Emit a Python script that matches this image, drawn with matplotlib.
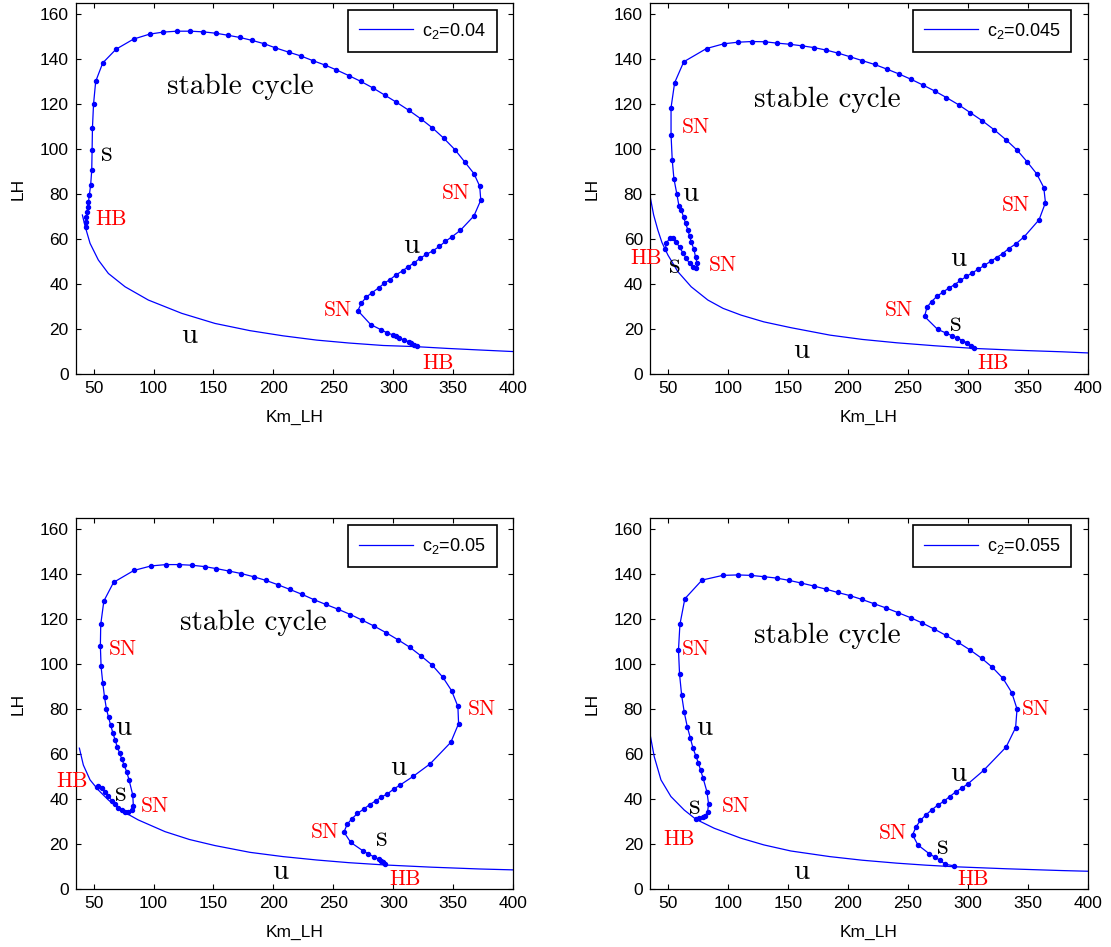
import matplotlib
matplotlib.use('Agg')
import matplotlib.pyplot as plt

plt.rcParams['font.family'] = ['Liberation Sans', 'DejaVu Sans']

# ---------------- data ----------------
c2_values = ['0.04', '0.045', '0.05', '0.055']

# equilibrium branches (Km_LH, LH)
eq1_x = [40.7, 42.9, 47.1, 54.0, 62.4, 76.3, 95.7, 123.5, 151.3, 180.4, 208.0, 236.0, 263.0, 291.5, 318.5, 345.0, 372.0, 400.0]
eq1_y = [70.7, 65.8, 58.1, 50.7, 44.7, 38.8, 32.9, 27.0, 22.5, 19.3, 17.0, 15.1, 13.8, 12.7, 12.2, 11.4, 10.7, 10.0]

eq2_x = [35.3, 38.1, 41.6, 45.0, 50.0, 58.3, 69.4, 83.3, 96.0, 111.0, 130.0, 152.7, 185.2, 212.0, 240.8, 272.0, 305.2, 340.0, 378.6, 400.0]
eq2_y = [78.5, 70.7, 64.0, 58.5, 52.9, 45.5, 38.8, 32.9, 29.2, 26.2, 23.2, 20.6, 17.3, 15.4, 13.9, 12.6, 11.4, 10.6, 9.9, 9.4]

eq3_x = [38.2, 41.5, 47.1, 54.0, 62.3, 73.5, 87.3, 109.6, 130.0, 151.3, 180.4, 208.0, 236.0, 263.0, 292.4, 332.0, 372.0, 400.0]
eq3_y = [62.7, 55.2, 48.6, 44.1, 39.7, 34.9, 30.8, 25.6, 22.1, 19.4, 16.4, 14.5, 13.0, 11.8, 10.8, 9.8, 9.0, 8.6]

eq4_x = [35.3, 38.6, 44.2, 52.5, 63.6, 73.3, 88.6, 110.8, 130.0, 152.5, 185.0, 212.0, 240.6, 265.0, 288.6, 332.0, 378.3, 400.0]
eq4_y = [68.3, 58.9, 48.6, 41.2, 35.2, 31.1, 27.1, 22.7, 19.7, 17.0, 14.5, 12.9, 11.6, 10.7, 10.0, 9.1, 8.3, 8.0]

# limit-cycle branches (Km_LH, max LH)
cyc1_x = [43.5, 44.0, 44.0, 44.6, 45.2, 45.7, 46.5, 47.6, 48.5, 48.8, 49.1, 50.0, 51.8, 57.7, 68.8,
          83.4, 96.8, 108.1, 119.7, 130.7, 141.4, 151.9, 162.0, 172.1, 182.3, 192.4, 201.6, 212.6,
          222.8, 232.9, 242.7, 252.5, 262.7, 272.8, 282.9, 292.8, 302.3, 313.0, 322.8, 332.4, 341.9,
          351.4, 359.5, 367.2, 372.0, 372.9, 367.2, 355.9, 349.1, 343.4, 338.3, 333.0, 327.6, 322.6,
          317.5, 312.4, 307.7, 302.3, 297.2, 292.5, 287.7, 282.3, 277.6, 273.4, 270.4, 281.1, 290.1,
          294.5, 299.6, 302.3, 304.7, 309.1, 313.0, 315.1, 317.2, 319.6]
cyc1_y = [65.5, 67.7, 69.9, 72.1, 74.4, 76.3, 79.6, 84.0, 90.7, 99.5, 109.5, 120.0, 130.1, 138.3, 144.4,
          148.9, 151.1, 152.0, 152.4, 152.4, 152.1, 151.5, 150.6, 149.6, 148.3, 146.8, 145.0, 143.1,
          141.4, 139.3, 137.4, 135.2, 132.7, 130.1, 127.2, 124.0, 120.9, 117.2, 113.5, 109.5, 104.9,
          99.7, 94.3, 89.1, 83.5, 77.3, 70.3, 63.9, 61.1, 59.0, 56.7, 54.8, 53.2, 51.6,
          49.5, 47.7, 45.9, 44.1, 42.0, 40.4, 38.3, 36.2, 34.3, 31.6, 28.2, 22.0, 19.6,
          18.4, 17.4, 16.8, 16.0, 15.2, 14.3, 13.7, 13.1, 12.3]

cyc2_x = [47.8, 48.6, 51.4, 54.2, 56.9, 59.7, 62.5, 65.3, 68.0, 70.8, 73.6, 74.4, 73.0, 71.7, 69.4,
          68.0, 66.7, 64.7, 63.0, 61.1, 59.2, 57.5, 55.0, 53.6, 52.6, 52.6, 55.6, 63.2, 82.2, 96.6,
          108.3, 119.8, 130.6, 140.9, 151.4, 161.7, 171.9, 181.9, 192.2, 202.1, 212.1, 222.4, 232.3,
          242.6, 252.8, 262.5, 272.5, 282.2, 292.4, 302.1, 312.1, 322.0, 332.0, 341.4, 349.6, 357.5,
          363.4, 364.8, 359.5, 347.2, 340.2, 334.0, 329.1, 324.1, 319.1, 313.8, 308.8, 303.8, 298.9,
          293.9, 289.2, 284.2, 279.2, 274.2, 269.8, 266.0, 264.0, 274.8, 281.6, 286.6, 291.2, 295.6,
          299.7, 302.7, 305.0]
cyc2_y = [55.4, 58.1, 60.3, 60.6, 58.8, 56.3, 53.9, 51.4, 49.2, 47.4, 47.0, 49.2, 52.1, 55.4, 58.8,
          61.3, 64.0, 67.0, 69.9, 72.9, 74.7, 79.9, 86.8, 95.1, 106.4, 118.4, 129.5, 138.8, 144.7, 146.8,
          147.5, 147.8, 147.7, 147.1, 146.6, 145.9, 145.1, 144.0, 142.6, 141.0, 139.3, 137.6, 135.6,
          133.4, 131.0, 128.5, 125.8, 122.9, 119.7, 116.2, 112.6, 108.6, 104.1, 99.4, 94.3, 89.0,
          82.9, 76.2, 68.6, 61.1, 57.9, 55.7, 53.5, 51.8, 50.1, 48.3, 46.6, 45.0, 43.4,
          41.6, 39.8, 38.2, 36.4, 34.5, 32.2, 29.7, 25.6, 19.9, 18.3, 17.1, 16.0, 14.9,
          13.8, 12.6, 11.6]

cyc3_x = [52.7, 54.0, 56.8, 59.6, 62.3, 65.2, 67.9, 70.7, 73.5, 76.3, 79.0, 81.8, 83.2, 82.7, 79.6,
          77.7, 75.6, 73.5, 71.7, 69.7, 67.9, 66.1, 64.3, 62.5, 60.7, 59.2, 57.7, 56.3, 55.7, 56.0,
          58.6, 66.7, 83.7, 98.0, 110.5, 121.2, 132.2, 142.6, 152.5, 163.2, 173.3, 183.4, 193.6, 203.4,
          213.5, 223.7, 233.8, 243.6, 253.7, 264.2, 274.0, 283.8, 293.7, 303.8, 313.6, 323.1, 332.4,
          341.3, 348.5, 353.8, 354.4, 347.9, 330.6, 316.6, 305.6, 300.2, 295.1, 290.1, 285.3, 280.3,
          275.2, 270.1, 265.4, 261.5, 258.8, 264.5, 274.3, 279.1, 283.5, 287.7, 290.1, 291.6, 292.8]
cyc3_y = [45.3, 45.9, 44.9, 43.4, 41.5, 39.4, 37.8, 36.3, 35.2, 34.5, 34.5, 35.2, 37.0, 41.9, 48.6,
          52.1, 55.1, 57.9, 60.6, 63.4, 66.5, 69.5, 72.9, 76.4, 80.3, 85.3, 91.6, 99.0, 108.0, 117.7,
          128.1, 136.4, 141.7, 143.7, 144.3, 144.3, 144.0, 143.4, 142.5, 141.4, 140.3, 138.9, 137.3, 135.4,
          133.3, 131.1, 128.7, 126.6, 124.5, 122.1, 119.6, 117.0, 114.1, 110.9, 107.6, 103.7, 99.6,
          94.2, 88.3, 81.3, 73.6, 65.3, 55.7, 50.2, 46.3, 44.5, 42.4, 41.0, 39.3, 37.6,
          35.6, 33.7, 31.3, 28.9, 25.4, 20.8, 17.2, 15.7, 14.5, 13.4, 12.6, 11.9, 11.0]

cyc4_x = [73.3, 76.1, 78.9, 81.1, 83.1, 83.9, 82.5, 79.2, 77.2, 75.3, 73.3, 70.8, 68.6, 66.1, 63.6,
          61.4, 59.7, 58.8, 60.0, 64.1, 78.4, 95.7, 108.3, 119.2, 130.3, 140.6, 150.8, 161.1, 171.4,
          181.6, 191.6, 201.8, 211.8, 221.8, 232.0, 242.0, 252.3, 262.2, 272.2, 281.9, 291.8, 301.8,
          311.5, 320.6, 329.4, 336.7, 341.1, 339.9, 332.0, 313.2, 300.3, 295.1, 289.8, 284.8, 279.8,
          274.8, 269.8, 265.2, 260.5, 257.0, 254.0, 258.4, 268.1, 272.8, 277.2, 281.0, 288.6]
cyc4_y = [31.1, 31.6, 32.0, 32.6, 34.5, 37.9, 43.4, 49.6, 53.0, 56.3, 59.2, 62.9, 67.4, 72.3, 78.7,
          86.4, 95.6, 106.3, 117.7, 129.1, 137.4, 139.5, 139.7, 139.5, 138.9, 138.3, 137.3, 136.1, 134.8,
          133.4, 131.9, 130.5, 128.8, 126.9, 125.0, 122.9, 120.7, 118.3, 115.6, 112.8, 109.8, 106.4,
          102.7, 98.6, 93.7, 87.4, 80.1, 71.8, 63.2, 52.8, 46.9, 45.0, 43.2, 41.1, 39.0,
          37.3, 35.2, 33.1, 30.6, 27.8, 24.2, 19.7, 15.7, 14.2, 12.8, 11.1, 10.4]

x_ticks = [50, 100, 150, 200, 250, 300, 350, 400]
y_ticks = [0, 20, 40, 60, 80, 100, 120, 140, 160]

# annotations: (text, x, y)
red_labels = [
    [('HB', 65, 68.6), ('SN', 351.7, 80.2), ('SN', 254, 28.2), ('HB', 337.4, 4.9)],
    [('SN', 73.5, 109.6), ('HB', 31.8, 51.3), ('SN', 95.4, 48.3), ('SN', 340.2, 75.0),
     ('SN', 242.6, 28.2), ('HB', 320.9, 4.8)],
    [('SN', 74.4, 106.6), ('HB', 32.1, 47.9), ('SN', 101.2, 36.8), ('SN', 373.8, 80.1),
     ('SN', 243, 25.2), ('HB', 310, 4.5)],
    [('SN', 73.5, 106.6), ('SN', 106.3, 36.8), ('HB', 59.4, 22.3), ('SN', 356.9, 80.1),
     ('SN', 237.6, 24.9), ('HB', 304.7, 4.5)],
]
black_labels = [
    [('stable cycle', 172, 127.5), ('s', 61.3, 97.7), ('u', 315, 57.2), ('u', 129.5, 17.1)],
    [('stable cycle', 183.1, 121.8), ('u', 69, 80.2), ('s', 55.6, 48.3), ('u', 292.4, 51.3),
     ('s', 290, 22.3), ('u', 161.4, 10.4)],
    [('stable cycle', 183.4, 118.4), ('u', 74.7, 71.7), ('s', 72.6, 42.4), ('u', 303.8, 53.9),
     ('s', 290.4, 22.3), ('u', 205.8, 7.9)],
    [('stable cycle', 183.1, 112.5), ('u', 79.9, 71.7), ('s', 72.6, 36.8), ('u', 292.4, 51.4),
     ('s', 279.2, 19.0), ('u', 161.4, 7.9)],
]

eqs = [(eq1_x, eq1_y), (eq2_x, eq2_y), (eq3_x, eq3_y), (eq4_x, eq4_y)]
cycs = [(cyc1_x, cyc1_y), (cyc2_x, cyc2_y), (cyc3_x, cyc3_y), (cyc4_x, cyc4_y)]

# ---------------- figure ----------------
fig = plt.figure(figsize=(11.11, 9.47), dpi=100)
positions = [
    [0.068, 0.605, 0.394, 0.392],
    [0.585, 0.605, 0.394, 0.392],
    [0.068, 0.061, 0.394, 0.392],
    [0.585, 0.061, 0.394, 0.392],
]
blue = '#0000ff'
red = '#ff0000'

for i in range(4):
    ax = fig.add_axes(positions[i])
    ex, ey = eqs[i]
    cx, cy = cycs[i]
    ax.plot(ex, ey, color=blue, lw=0.9, label='c$_\\mathregular{2}$=' + c2_values[i])
    ax.plot(cx, cy, color=blue, lw=0.9, marker='o', ms=2.9, mec=blue, mfc=blue)
    ax.set_xlim(35, 400)
    ax.set_ylim(0, 165)
    ax.set_xticks(x_ticks)
    ax.set_yticks(y_ticks)
    ax.tick_params(direction='in', top=True, right=True, length=3.5, width=0.8,
                   labelsize=12.5, pad=5)
    for s in ax.spines.values():
        s.set_linewidth(0.9)
    ax.set_xlabel('Km_LH', fontsize=12.5, labelpad=10)
    ax.set_ylabel('LH', fontsize=12.5, labelpad=10)
    for t, x, y in red_labels[i]:
        ax.text(x, y, t, color=red, fontsize=15.5, family='cmr10', ha='center', va='center')
    for t, x, y in black_labels[i]:
        ax.text(x, y, t, color='black', fontsize=21, family='cmr10', ha='center', va='center')
    leg = ax.legend(loc='upper right', bbox_to_anchor=(0.962, 0.981), fontsize=13,
                    handlelength=3.0, handletextpad=0.5, borderpad=0.6, borderaxespad=0.0,
                    fancybox=False, framealpha=1, edgecolor='black')
    leg.get_frame().set_linewidth(1.2)

fig.savefig('out.png', dpi=100)
